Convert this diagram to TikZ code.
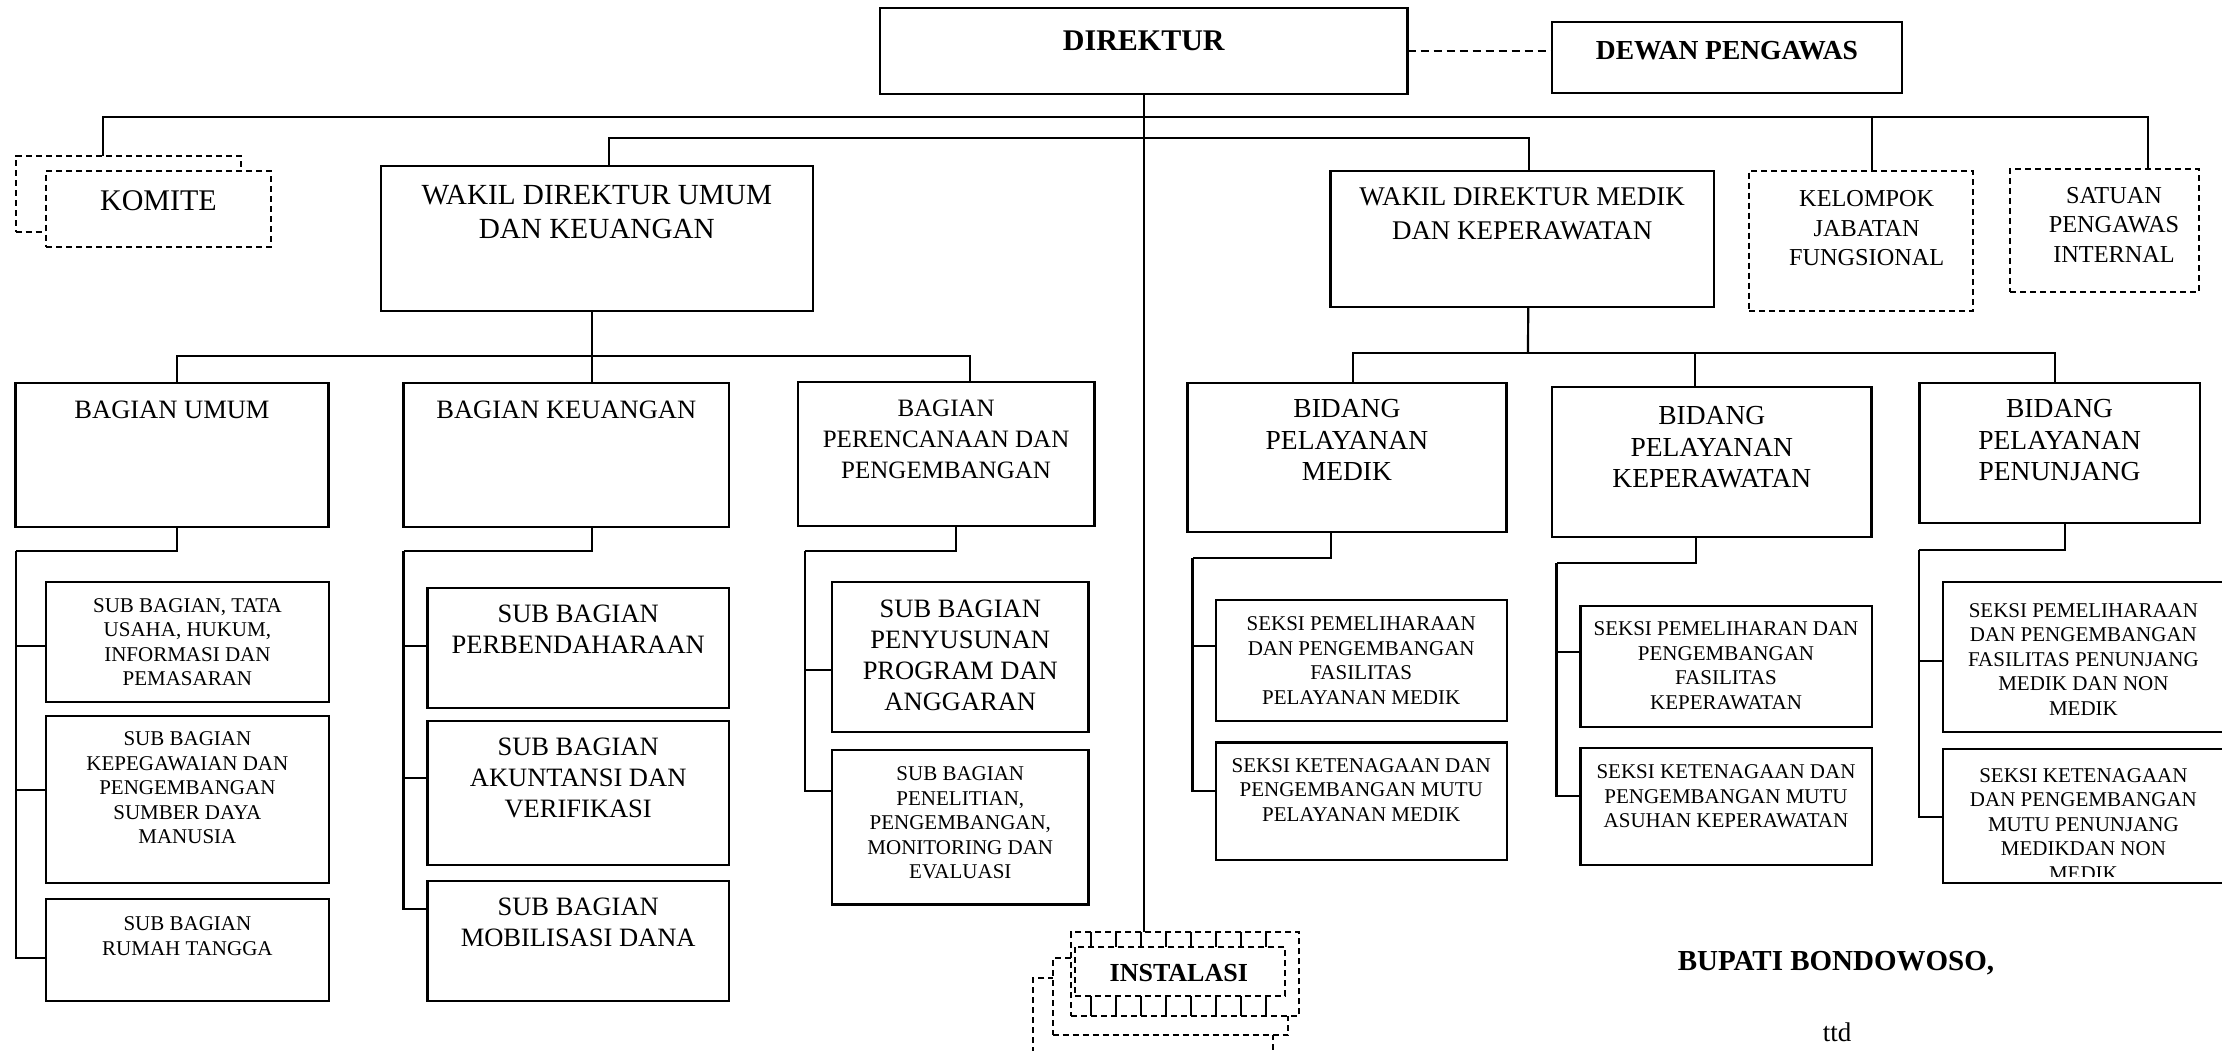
\documentclass[tikz,border=0pt]{standalone}
\usepackage{fontspec}
\setmainfont{Liberation Serif}
\usetikzlibrary{positioning}

\begin{document}
\begin{tikzpicture}[x=1pt, y=-1pt,
  box/.style={draw, line width=2.3pt, fill=white, inner sep=0pt, outer sep=0pt},
  dbox/.style={box, dash pattern=on 6pt off 4pt},
  line/.style={line width=2.2pt},
  txt/.style={align=center, inner sep=0pt},
  t21/.style={txt, font=\fontsize{21}{24.6}\selectfont},
  t24/.style={txt, font=\fontsize{24.3}{29.5}\selectfont},
  t25/.style={txt, font=\fontsize{25}{30.8}\selectfont},
  t26/.style={txt, font=\fontsize{26.5}{31}\selectfont},
  t27/.style={txt, font=\fontsize{27}{33.3}\selectfont},
  t28/.style={txt, font=\fontsize{27.5}{31.5}\selectfont},
  t29/.style={txt, font=\fontsize{29.2}{33.3}\selectfont},
  t30/.style={txt, font=\fontsize{30}{36}\selectfont},
  tb/.style={txt, font=\fontsize{#1}{#1}\selectfont\bfseries}]
\clip (0,0) rectangle (2222,1051);

% pimpinan
\node[box, minimum width=527.6pt, minimum height=85.7pt] (direktur) at (1143.8,51.2) {};
\node[tb=30, below=22.4pt of direktur.north] (direktur-t) {DIREKTUR};
\node[box, minimum width=350pt, minimum height=71.6pt] (dewan) at (1727,57.5) {};
\node[tb=27.5, below=19.2pt of dewan.north] (dewan-t) {DEWAN PENGAWAS};

\node[dbox, minimum width=225.1pt, minimum height=75.7pt] (komite-b) at (128.2,193.9) {};
\node[dbox, minimum width=225pt, minimum height=76pt] (komite) at (158.5,208.7) {};
\node[t30, below=19.4pt of komite.north] (komite-t) {KOMITE};

\node[box, minimum width=431.8pt, minimum height=144.7pt] (wakilu) at (596.8,238.3) {};
\node[t29, below=19.3pt of wakilu.north] (wakilu-t) {WAKIL DIREKTUR UMUM\\DAN KEUANGAN};
\node[box, minimum width=383.6pt, minimum height=136.6pt] (wakilm) at (1522.2,239) {};
\node[t27, below=17.1pt of wakilm.north] (wakilm-t) {WAKIL DIREKTUR MEDIK\\DAN KEPERAWATAN};

\node[dbox, minimum width=224pt, minimum height=140pt] (kelompok) at (1861,240.7) {};
\node[t24, below=19.6pt of kelompok.north, xshift=5.7pt] (kelompok-t) {KELOMPOK\\JABATAN\\FUNGSIONAL};
\node[dbox, minimum width=189pt, minimum height=122.7pt] (satuan) at (2104.5,230.4) {};
\node[t24, below=18pt of satuan.north, xshift=9.5pt] (satuan-t) {SATUAN\\PENGAWAS\\INTERNAL};

% bagian dan bidang
\node[box, minimum width=312.9pt, minimum height=144pt] (bumum) at (172,454.7) {};
\node[t26, below=17.8pt of bumum.north] (bumum-t) {BAGIAN UMUM};
\node[box, minimum width=325.5pt, minimum height=144pt] (bkeu) at (566.3,454.7) {};
\node[t26, below=17.8pt of bkeu.north] (bkeu-t) {BAGIAN KEUANGAN};
\node[box, minimum width=296.6pt, minimum height=144pt] (bplan) at (946.1,454) {};
\node[t25, below=18pt of bplan.north] (bplan-t) {BAGIAN\\PERENCANAAN DAN\\PENGEMBANGAN};

\node[box, minimum width=319.1pt, minimum height=149.3pt] (bmed) at (1346.9,457.4) {};
\node[t28, below=16.8pt of bmed.north] (bmed-t) {BIDANG\\PELAYANAN\\MEDIK};
\node[box, minimum width=319.2pt, minimum height=150pt] (bkep) at (1711.8,462.3) {};
\node[t28, below=18.9pt of bkep.north] (bkep-t) {BIDANG\\PELAYANAN\\KEPERAWATAN};
\node[box, minimum width=280.5pt, minimum height=140.6pt] (bpen) at (2059.6,453) {};
\node[t28, below=16.8pt of bpen.north] (bpen-t) {BIDANG\\PELAYANAN\\PENUNJANG};

% sub bagian
\node[box, minimum width=283.3pt, minimum height=120pt] (u1) at (187.4,641.7) {};
\node[t21, below=16.3pt of u1.north] (u1-t) {SUB BAGIAN, TATA\\USAHA, HUKUM,\\INFORMASI DAN\\PEMASARAN};
\node[box, minimum width=283.3pt, minimum height=167.6pt] (u2) at (187.4,799.5) {};
\node[t21, below=15.6pt of u2.north] (u2-t) {SUB BAGIAN\\KEPEGAWAIAN DAN\\PENGEMBANGAN\\SUMBER DAYA\\MANUSIA};
\node[box, minimum width=283.3pt, minimum height=102pt] (u3) at (187.4,950) {};
\node[t21, below=17.3pt of u3.north] (u3-t) {SUB BAGIAN\\RUMAH TANGGA};

\node[box, minimum width=301.7pt, minimum height=120pt] (k1) at (578.2,647.7) {};
\node[t26, below=16.9pt of k1.north] (k1-t) {SUB BAGIAN\\PERBENDAHARAAN};
\node[box, minimum width=301.7pt, minimum height=144pt] (k2) at (578.2,793) {};
\node[t26, below=17pt of k2.north] (k2-t) {SUB BAGIAN\\AKUNTANSI DAN\\VERIFIKASI};
\node[box, minimum width=301.7pt, minimum height=120.3pt] (k3) at (578.2,940.9) {};
\node[t26, below=17.3pt of k3.north] (k3-t) {SUB BAGIAN\\MOBILISASI DANA};

\node[box, minimum width=256.2pt, minimum height=150pt] (p1) at (960.3,656.7) {};
\node[t26, below=17.9pt of p1.north] (p1-t) {SUB BAGIAN\\PENYUSUNAN\\PROGRAM DAN\\ANGGARAN};
\node[box, minimum width=256.2pt, minimum height=154.3pt] (p2) at (960.3,827.2) {};
\node[t21, below=16.3pt of p2.north] (p2-t) {SUB BAGIAN\\PENELITIAN,\\PENGEMBANGAN,\\MONITORING DAN\\EVALUASI};

% seksi
\node[box, minimum width=290.9pt, minimum height=121pt] (m1) at (1361.2,660.5) {};
\node[t21, below=16.3pt of m1.north] (m1-t) {SEKSI PEMELIHARAAN\\DAN PENGEMBANGAN\\FASILITAS\\PELAYANAN MEDIK};
\node[box, minimum width=290.9pt, minimum height=117.7pt] (m2) at (1361.2,801.2) {};
\node[t21, below=15.7pt of m2.north] (m2-t) {SEKSI KETENAGAAN DAN\\PENGEMBANGAN MUTU\\PELAYANAN MEDIK};

\node[box, minimum width=291.3pt, minimum height=121pt] (e1) at (1726,666.2) {};
\node[t21, below=15.6pt of e1.north] (e1-t) {SEKSI PEMELIHARAN DAN\\PENGEMBANGAN\\FASILITAS\\KEPERAWATAN};
\node[box, minimum width=291.3pt, minimum height=117.3pt] (e2) at (1726,806.3) {};
\node[t21, below=17pt of e2.north] (e2-t) {SEKSI KETENAGAAN DAN\\PENGEMBANGAN MUTU\\ASUHAN KEPERAWATAN};

\node[box, minimum width=281.3pt, minimum height=150pt] (n1) at (2083.4,656.7) {};
\node[t21, below=21.3pt of n1.north] (n1-t) {SEKSI PEMELIHARAAN\\DAN PENGEMBANGAN\\FASILITAS PENUNJANG\\MEDIK DAN NON\\MEDIK};
\node[box, minimum width=281.3pt, minimum height=133.7pt] (n2) at (2083.4,815.9) {};
\begin{scope}
\clip (1944,750) rectangle (2222,876);
\node[t21, below=19pt of n2.north] (n2-t) {SEKSI KETENAGAAN\\DAN PENGEMBANGAN\\MUTU PENUNJANG\\MEDIKDAN NON\\MEDIK};
\end{scope}

% instalasi
\node[dbox, line width=1.8pt, minimum width=239.7pt, minimum height=81.7pt] (inst-d) at (1153.2,1019.2) {};
\node[dbox, line width=1.8pt, minimum width=235.6pt, minimum height=76.7pt] (inst-c) at (1170.5,996.7) {};
\node[dbox, line width=1.8pt, minimum width=228.3pt, minimum height=83.7pt] (instalasi) at (1185.2,974.2) {};
\node[dbox, line width=1.6pt, minimum width=210pt, minimum height=49.3pt] (inst-b) at (1180,971.4) {};
\foreach \x in {1091,1116,...,1266} {
  \draw[line width=1.6pt] (\x,932.3) -- (\x,946.7);
  \draw[line width=1.6pt] (\x,996) -- (\x,1016);
}
\node[tb=26] (instalasi-t) at (1178.8,973.3) {INSTALASI};

\node[tb=29, anchor=base] (bupati) at (1836,970) {BUPATI BONDOWOSO,};
\node[txt, font=\fontsize{27}{27}\selectfont, anchor=base] (ttd) at (1837.2,1041.7) {ttd};

% garis
\draw[line, dash pattern=on 8pt off 5pt] (direktur.east) -- (direktur.east -| dewan.west);
\draw[line width=1.5pt] (direktur.south) -- (direktur.south |- instalasi.north);

\coordinate (bus1) at (1144,116.7);
\coordinate (kelin) at ([xshift=11pt]kelompok.north);
\draw[line] ([xshift=-25.5pt]komite-b.north) |- (bus1) -| ([xshift=43.8pt]satuan.north);
\draw[line] (kelin) -- (kelin |- bus1);

\coordinate (bus2) at (1144,138.3);
\draw[line] ([xshift=12pt]wakilu.north) |- (bus2) -| ([xshift=7pt]wakilm.north);

\coordinate (bus3) at (591.8,356);
\draw[line] ([xshift=-5pt]wakilu.south) -- ([xshift=25.5pt]bkeu.north);
\draw[line] ([xshift=5pt]bumum.north) |- (bus3) -| ([xshift=23.7pt]bplan.north);

\coordinate (bus4) at (1528,353.3);
\coordinate (kepin) at ([xshift=-16.5pt]bkep.north);
\draw[line] ([xshift=6pt]wakilm.south) -- (bus4);
\draw[line] ([xshift=5.7pt]bmed.north) |- (bus4) -| ([xshift=-4.3pt]bpen.north);
\draw[line] (kepin) -- (kepin |- bus4);

\coordinate (uspine) at (15.6,550.7);
\draw[line] ([xshift=5pt]bumum.south) |- (uspine);
\draw[line] (uspine) |- ([yshift=-4.3pt]u1.west);
\draw[line] (uspine) |- ([yshift=9.5pt]u2.west);
\draw[line] (uspine) |- ([yshift=-8.3pt]u3.west);

\coordinate (kspine) at (403.5,550.7);
\draw[line] ([xshift=25.5pt]bkeu.south) |- (kspine);
\draw[line] (kspine) |- ([yshift=1.7pt]k1.west);
\draw[line] (kspine) |- ([yshift=14.7pt]k2.west);
\draw[line] (kspine) |- ([yshift=31.6pt]k3.west);

\coordinate (pspine) at (804.7,550.7);
\draw[line] ([xshift=9.6pt]bplan.south) |- (pspine);
\draw[line] (pspine) |- ([yshift=-13.3pt]p1.west);
\draw[line] (pspine) |- ([yshift=36.5pt]p2.west);

\coordinate (mspine) at (1192.5,558);
\draw[line] ([xshift=-16.3pt]bmed.south) |- (mspine);
\draw[line] (mspine) |- ([yshift=14.5pt]m1.west);
\draw[line] (mspine) |- ([yshift=10.5pt]m2.west);

\coordinate (espine) at (1556.5,563.3);
\draw[line] ([xshift=-16.2pt]bkep.south) |- (espine);
\draw[line] (espine) |- ([yshift=14.5pt]e1.west);
\draw[line] (espine) |- ([yshift=10.3pt]e2.west);

\coordinate (nspine) at (1919,550);
\draw[line] ([xshift=5pt]bpen.south) |- (nspine);
\draw[line] (nspine) |- ([yshift=-4.3pt]n1.west);
\draw[line] (nspine) |- ([yshift=-1.4pt]n2.west);
\end{tikzpicture}
\end{document}
